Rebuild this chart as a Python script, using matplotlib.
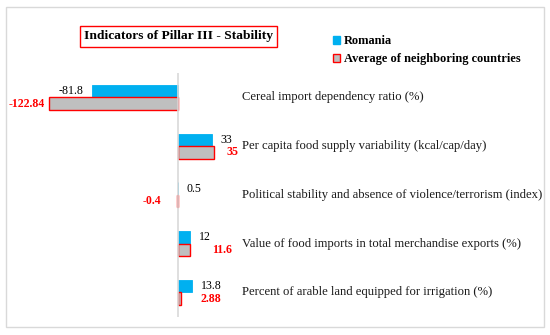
import matplotlib.pyplot as plt
import matplotlib.transforms as mtransforms
from matplotlib.patches import Patch, Rectangle

categories = [
    "Cereal import dependency ratio (%)",
    "Per capita food supply variability (kcal/cap/day)",
    "Political stability and absence of violence/terrorism (index)",
    "Value of food imports in total merchandise exports (%)",
    "Percent of arable land equipped for irrigation (%)",
]
romania = [-81.8, 33, 0.5, 12, 13.8]
neighbors = [-122.84, 35, -0.4, 11.6, 2.88]
romania_labels = ["-81.8", "33", "0.5", "12", "13.8"]
neighbors_labels = ["-122.84", "35", "-0.4", "11.6", "2.88"]

BLUE = "#00B0F0"
GREY = "#BFBFBF"
RED = "#FF0000"
FONT = "Liberation Serif"

W, H = 550, 335
# pixel layout of the plot area (axis line at x0, 1.047 px per unit)
x0, px_per_unit = 177.7, 1.047
left_px, right_px = 20, 540
top_px, bottom_px = 73, 316.7

fig = plt.figure(figsize=(W / 100, H / 100), dpi=100)
fig.patch.set_facecolor("white")
ax = fig.add_axes([left_px / W, 1 - bottom_px / H, (right_px - left_px) / W, (bottom_px - top_px) / H])
ax.set_xlim((left_px - x0) / px_per_unit, (right_px - x0) / px_per_unit)
ax.set_ylim(len(categories) - 0.5, -0.5)
ax.axis("off")

ypos = list(range(len(categories)))
h = 0.258
ax.barh([y - h / 2 for y in ypos], romania, height=h, color=BLUE, edgecolor=BLUE, linewidth=0.6, zorder=2)
ax.barh([y + h / 2 for y in ypos], neighbors, height=h, color=GREY, edgecolor=RED, linewidth=1.0, zorder=2)
ax.axvline(0, color="#D9D9D9", linewidth=1.2, zorder=3)

# data labels (Excel labels were nudged by hand, so offsets vary)
neighbor_gap = [4, 12, 16, 22, 20]
for i, y in enumerate(ypos):
    v = romania[i]
    ax.annotate(romania_labels[i], (v, y - h / 2), xytext=(6 if v >= 0 else -6, 0),
                textcoords="offset points", ha="left" if v >= 0 else "right", va="center",
                fontsize=8.6, family=FONT, color="black")
    v = neighbors[i]
    g = neighbor_gap[i] * 0.72
    ax.annotate(neighbors_labels[i], (v, y + h / 2), xytext=(g if v >= 0 else -g, 0),
                textcoords="offset points", ha="left" if v >= 0 else "right", va="center",
                fontsize=8.6, family=FONT, color=RED, fontweight="bold")

# category names to the right of the axis
trans = mtransforms.blended_transform_factory(fig.transFigure, ax.transData)
for y, name in zip(ypos, categories):
    ax.text(242 / W, y, name, transform=trans, ha="left", va="center",
            fontsize=9.1, family=FONT, color="#1a1a1a")

# title box
fig.text(178.5 / W, 1 - 36.5 / H, "Indicators of Pillar III - Stability", ha="center", va="center",
         fontsize=9.7, family=FONT, fontweight="bold",
         bbox=dict(boxstyle="square,pad=0.3", facecolor="white", edgecolor=RED, linewidth=1.0))

handles = [Patch(facecolor=BLUE, edgecolor=BLUE), Patch(facecolor=GREY, edgecolor=RED, linewidth=1.0)]
fig.legend(handles, ["Romania", "Average of neighboring countries"], loc="upper left",
           bbox_to_anchor=(333 / W, 1 - 35 / H), frameon=False,
           prop={"family": FONT, "weight": "bold", "size": 8.9},
           handlelength=0.6, handleheight=0.6, handletextpad=0.25, labelspacing=0.5,
           borderpad=0, borderaxespad=0)

# outer frame
fig.add_artist(Rectangle((6 / W, 1 - 326.7 / H), (543.7 - 6) / W, (326.7 - 7) / H,
                         transform=fig.transFigure, fill=False, edgecolor="#D9D9D9", linewidth=1.0))

fig.savefig("out.png", dpi=100)
